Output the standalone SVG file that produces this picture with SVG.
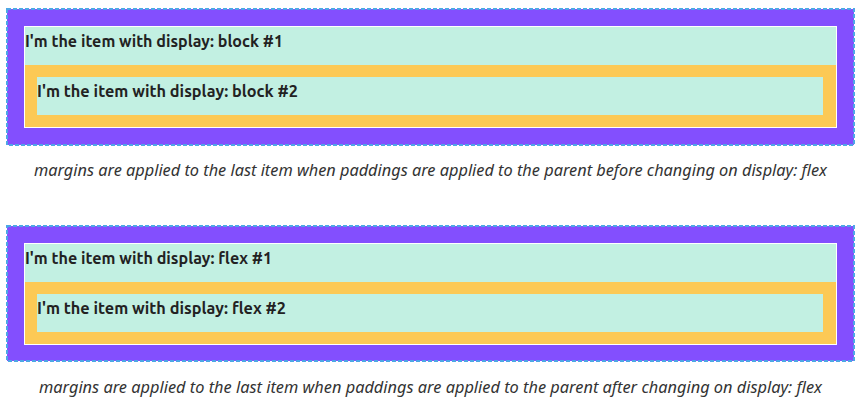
<svg xmlns="http://www.w3.org/2000/svg" width="863" height="407" viewBox="0 0 863 407">
<style>
.outer{fill:#834ffe;stroke:#4ea6e6;stroke-width:2;stroke-dasharray:4 2}
.frame{fill:none;stroke:#ffffff;stroke-width:1}
.item{fill:#c2f0e2}
.wrap{fill:#fcc955}
.lbl{font-family:"Ubuntu","Open Sans","Noto Sans",sans-serif;font-weight:bold;font-size:16px;fill:#222222}
.cap{font-family:"Noto Sans","Open Sans",sans-serif;font-style:italic;font-size:16px;fill:#333333}
</style>
<g id="block-container">
<rect class="outer" x="7" y="9" width="847" height="136"/>
<rect class="frame" x="24.5" y="26.5" width="812" height="101"/>
</g>
<g id="block-item-1">
<rect class="item" x="25" y="27" width="811" height="38"/>
<text class="lbl" x="25" y="47" textLength="258" lengthAdjust="spacingAndGlyphs">I'm the item with display: block #1</text>
</g>
<g id="block-item-2">
<rect class="wrap" x="25" y="65" width="811" height="62"/>
<rect class="item" x="37" y="77" width="786" height="38"/>
<text class="lbl" x="37" y="97" textLength="261" lengthAdjust="spacingAndGlyphs">I'm the item with display: block #2</text>
</g>
<g id="caption-1">
<text class="cap" x="34" y="176" textLength="793" lengthAdjust="spacingAndGlyphs">margins are applied to the last item when paddings are applied to the parent before changing on display: flex</text>
</g>
<g id="flex-container">
<rect class="outer" x="7" y="226" width="847" height="135"/>
<rect class="frame" x="24.5" y="243.5" width="812" height="101"/>
</g>
<g id="flex-item-1">
<rect class="item" x="25" y="244" width="811" height="38"/>
<text class="lbl" x="25" y="264" textLength="247" lengthAdjust="spacingAndGlyphs">I'm the item with display: flex #1</text>
</g>
<g id="flex-item-2">
<rect class="wrap" x="25" y="282" width="811" height="62"/>
<rect class="item" x="37" y="294" width="786" height="38"/>
<text class="lbl" x="37" y="314" textLength="249" lengthAdjust="spacingAndGlyphs">I'm the item with display: flex #2</text>
</g>
<g id="caption-2">
<text class="cap" x="39" y="393" textLength="783" lengthAdjust="spacingAndGlyphs">margins are applied to the last item when paddings are applied to the parent after changing on display: flex</text>
</g>
<g id="connectors"/>
</svg>
